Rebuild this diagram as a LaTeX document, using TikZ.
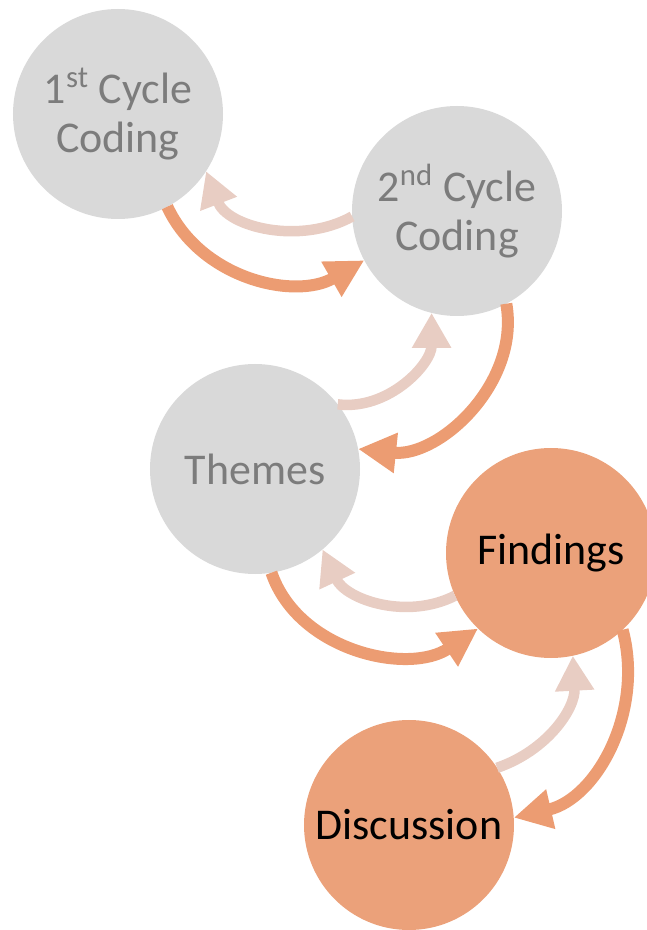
\documentclass[tikz,border=0pt]{standalone}
\usepackage{fontspec}
\setmainfont{Carlito}
\usetikzlibrary{arrows.meta}

\definecolor{stagegray}{RGB}{217,217,217}
\definecolor{stagetext}{RGB}{124,124,124}
\definecolor{stageorange}{RGB}{235,161,122}
\definecolor{fwdorange}{RGB}{236,156,114}
\definecolor{backpink}{RGB}{232,205,195}

\begin{document}
\begin{tikzpicture}[
    x=0.2mm, y=0.2mm,
    every node/.style={font=\fontsize{25}{28}\selectfont},
    stage/.style={circle, minimum size=42mm, inner sep=0pt, outer sep=0pt, align=center},
    early/.style={stage, fill=stagegray, text=stagetext},
    late/.style={stage, fill=stageorange, text=black},
    fwd/.style={draw=fwdorange, line width=2.4mm, -{Triangle[length=7.6mm, width=7.6mm]}},
    back/.style={draw=backpink, line width=2.1mm, -{Triangle[length=7mm, width=7.4mm]}}
]

\clip (0,0) rectangle (647,930);

% --- Stages ---
\node[early] (first)  at (118,816) {1\textsuperscript{st} Cycle\\Coding};
\node[early] (second) at (457,719) {2\textsuperscript{nd} Cycle\\Coding};
\node[early] (themes) at (255,461) {Themes};
\node[late]  (find)   at (551,377) {Findings};
\node[late]  (disc)   at (409,105) {Discussion};

% --- First <-> second cycle ---
\draw[fwd]  (first.-62) to[out=-65, in=210] (second.208);
\draw[back] (second.183) to[out=209, in=-69] (first.-33);

% --- Second cycle <-> themes ---
\draw[fwd]  (second.-62) to[out=-80, in=-6] (themes.11);
\draw[back] (themes.38) to[out=-7, in=270] (second.256);

% --- Themes <-> findings ---
\draw[fwd]  (themes.-81) to[out=-71, in=214] (find.226);
\draw[back] (find.204) to[out=207, in=-65] (themes.-50);

% --- Findings <-> discussion ---
\draw[fwd]  (find.-47) to[out=-75, in=13] (disc.4);
\draw[back] (disc.33) to[out=19, in=-87] (find.-78);

\end{tikzpicture}
\end{document}
